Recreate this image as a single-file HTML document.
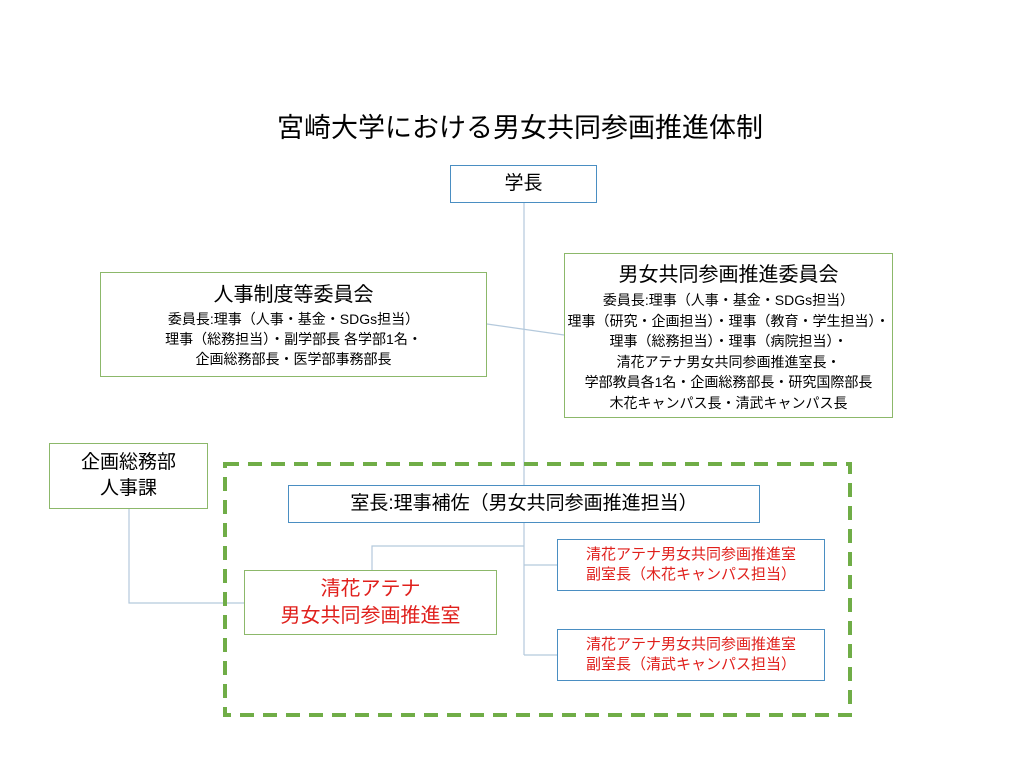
<!DOCTYPE html>
<html><head><meta charset="utf-8"><style>
body{margin:0;width:1024px;height:768px;background:#fff;position:relative;overflow:hidden;font-family:"Liberation Sans","Noto Sans CJK JP",sans-serif;}
.b{position:absolute;box-sizing:border-box;background:#fff;text-align:center;color:#000;}
.g{border:1.5px solid #8cb86a;}
.u{border:1.5px solid #4a8ec2;}
.r{color:#e0201c;}
svg{position:absolute;left:0;top:0;}
</style></head><body>
<svg width="1024" height="768">
<g stroke="#b4c9dc" stroke-width="1.2" fill="none">
<line x1="524" y1="202" x2="524" y2="487"/>
<line x1="487" y1="324" x2="564" y2="335"/>
<line x1="524" y1="522" x2="524" y2="655"/>
<polyline points="372,570 372,546 524,546"/>
<line x1="524" y1="565" x2="557" y2="565"/>
<line x1="524" y1="655" x2="557" y2="655"/>
<polyline points="129,509 129,603 244,603"/>
</g>
<rect x="225" y="464" width="625" height="251" fill="none" stroke="#70ad47" stroke-width="4" stroke-dasharray="14,9"/>
</svg>
<div style="position:absolute;left:0;width:1040px;top:106px;text-align:center;font-size:27px;">宮崎大学における男女共同参画推進体制</div>
<div class="b u" style="left:450px;top:165px;width:147px;height:38px;font-size:19px;line-height:36px;">学長</div>
<div class="b g" style="left:100px;top:272px;width:387px;height:105px;padding-top:8px;">
<div style="font-size:20px;line-height:28px;">人事制度等委員会</div>
<div style="font-size:14px;line-height:20px;">委員長:理事（人事・基金・SDGs担当）<br>理事（総務担当）・副学部長 各学部1名・<br>企画総務部長・医学部事務部長</div></div>
<div class="b g" style="left:564px;top:253px;width:329px;height:165px;padding-top:6px;">
<div style="font-size:20px;line-height:30px;">男女共同参画推進委員会</div>
<div style="font-size:14px;line-height:20.5px;">委員長:理事（人事・基金・SDGs担当）<br>理事（研究・企画担当）・理事（教育・学生担当）・<br>理事（総務担当）・理事（病院担当）・<br>清花アテナ男女共同参画推進室長・<br>学部教員各1名・企画総務部長・研究国際部長<br>木花キャンパス長・清武キャンパス長</div></div>
<div class="b g" style="left:49px;top:443px;width:159px;height:66px;font-size:19px;line-height:26px;padding-top:6px;">企画総務部<br>人事課</div>
<div class="b u" style="left:288px;top:485px;width:472px;height:38px;font-size:19px;line-height:36px;">室長:理事補佐（男女共同参画推進担当）</div>
<div class="b g r" style="left:244px;top:570px;width:253px;height:65px;font-size:20px;line-height:27px;padding-top:5px;">清花アテナ<br>男女共同参画推進室</div>
<div class="b u r" style="left:557px;top:539px;width:268px;height:52px;font-size:15px;line-height:20px;padding-top:5px;">清花アテナ男女共同参画推進室<br>副室長（木花キャンパス担当）</div>
<div class="b u r" style="left:557px;top:629px;width:268px;height:52px;font-size:15px;line-height:20px;padding-top:5px;">清花アテナ男女共同参画推進室<br>副室長（清武キャンパス担当）</div>
</body></html>
